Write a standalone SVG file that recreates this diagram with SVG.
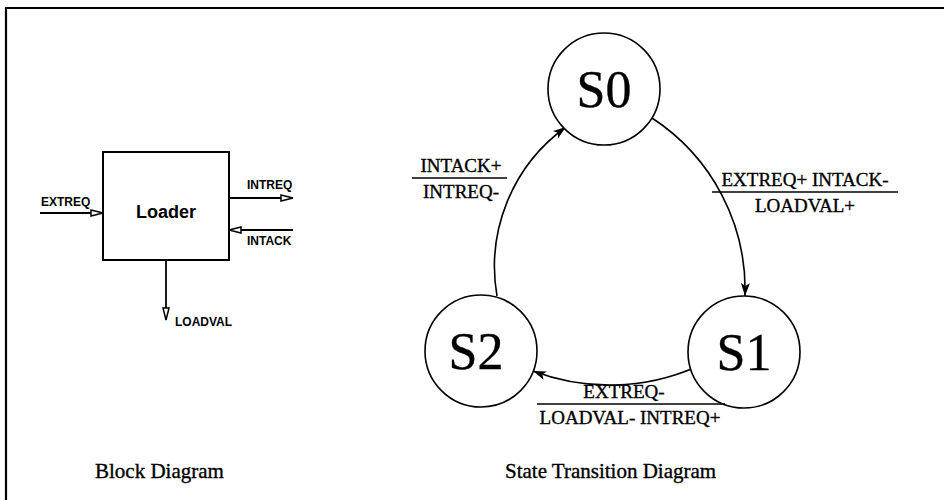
<svg xmlns="http://www.w3.org/2000/svg" width="944" height="500" viewBox="0 0 944 500">
<defs>
<style>
.sans{font-family:"Liberation Sans",Arial,sans-serif;font-weight:bold;fill:#000}
.serif{font-family:"Liberation Serif","Times New Roman",serif;fill:#000;stroke:#000;stroke-width:0.35}
.ln{stroke:#000;stroke-width:1.8;fill:none}
.arc{stroke:#000;stroke-width:1.6;fill:none}
.st{stroke:#000;stroke-width:1.6;fill:#fff}
.lbl{font-size:19px;text-anchor:middle}
.big{font-size:52px;text-anchor:middle}
</style>
<marker id="hollow" markerUnits="userSpaceOnUse" markerWidth="16" markerHeight="10" refX="13" refY="4" orient="auto">
<path d="M1,1 L13,4 L1,7 Z" fill="#fff" stroke="#000" stroke-width="1.5"/>
</marker>
<marker id="solid" markerUnits="userSpaceOnUse" markerWidth="16" markerHeight="12" refX="13" refY="5" orient="auto">
<path d="M0,0.5 L13,5 L0,9.5 L3,5 Z" fill="#000"/>
</marker>
</defs>
<rect x="0" y="0" width="944" height="500" fill="#fff"/>
<g id="frame">
<path d="M6,500 L6,8 L944,8" stroke="#000" stroke-width="2.2" fill="none"/>
</g>
<g id="connectors">
<line class="ln" x1="40" y1="213" x2="103" y2="213" marker-end="url(#hollow)"/>
<line class="ln" x1="229" y1="198" x2="293" y2="198" marker-end="url(#hollow)"/>
<line class="ln" x1="293" y1="230" x2="229" y2="230" marker-end="url(#hollow)"/>
<line class="ln" x1="166" y1="260" x2="166" y2="320" marker-end="url(#hollow)"/>
<path class="arc" d="M497,296 A172,172 0 0 1 566,127" marker-end="url(#solid)"/>
<path class="arc" d="M652,118 A205,205 0 0 1 745,296" marker-end="url(#solid)"/>
<path class="arc" d="M696,367 A215,215 0 0 1 533,371" marker-end="url(#solid)"/>
</g>
<g id="loader">
<rect x="103" y="152" width="126" height="108" fill="#fff" stroke="#000" stroke-width="2"/>
<text class="sans" x="166" y="218" font-size="18" text-anchor="middle">Loader</text>
</g>
<g id="signal-labels">
<text class="sans" x="41" y="206" font-size="12">EXTREQ</text>
<text class="sans" x="247" y="189" font-size="12">INTREQ</text>
<text class="sans" x="247" y="245" font-size="12">INTACK</text>
<text class="sans" x="175" y="326" font-size="12">LOADVAL</text>
</g>
<g id="S0">
<circle class="st" cx="604" cy="89" r="56"/>
<text class="serif big" x="604" y="107">S0</text>
</g>
<g id="S1">
<circle class="st" cx="744" cy="352" r="56"/>
<text class="serif big" x="744" y="370">S1</text>
</g>
<g id="S2">
<circle class="st" cx="481" cy="351" r="56"/>
<text class="serif big" x="476" y="369">S2</text>
</g>
<g id="label-s2-s0">
<text class="serif lbl" x="461" y="172">INTACK+</text>
<line x1="412" y1="178" x2="507" y2="178" stroke="#000" stroke-width="1.6"/>
<text class="serif lbl" x="461" y="198">INTREQ-</text>
</g>
<g id="label-s0-s1">
<text class="serif lbl" x="805" y="186">EXTREQ+ INTACK-</text>
<line x1="712" y1="192" x2="898" y2="192" stroke="#000" stroke-width="1.6"/>
<text class="serif lbl" x="805" y="212">LOADVAL+</text>
</g>
<g id="label-s1-s2">
<text class="serif lbl" x="624" y="398">EXTREQ-</text>
<line x1="537" y1="404" x2="725" y2="404" stroke="#000" stroke-width="1.6"/>
<text class="serif lbl" x="630" y="424">LOADVAL- INTREQ+</text>
</g>
<g id="captions">
<text class="serif" x="95" y="478" font-size="21">Block Diagram</text>
<text class="serif" x="505" y="478" font-size="21">State Transition Diagram</text>
</g>
</svg>
